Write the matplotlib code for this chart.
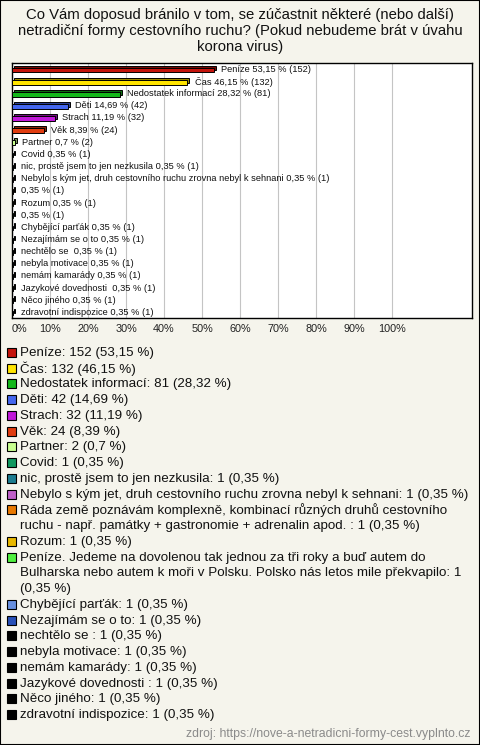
"""Horizontal 3D-ish bar chart of survey answers with a text legend below."""

import matplotlib
matplotlib.use("Agg")
import matplotlib.pyplot as plt
from matplotlib.patches import Rectangle
from matplotlib.ticker import FixedLocator
import numpy as np

plt.rcParams["font.family"] = ["Liberation Sans", "DejaVu Sans"]

TITLE = ("Co Vám doposud bránilo v tom, se zúčastnit některé (nebo další)\n"
         "netradiční formy cestovního ruchu? (Pokud nebudeme brát v úvahu\n"
         "korona virus)")
SOURCE = "zdroj: https://nove-a-netradicni-formy-cest.vyplnto.cz"

answers = [
    "Peníze", "Čas", "Nedostatek informací", "Děti", "Strach", "Věk", "Partner",
    "Covid", "nic, prostě jsem to jen nezkusila",
    "Nebylo s kým jet, druh cestovního ruchu zrovna nebyl k sehnani",
    "Ráda země poznávám komplexně, kombinací různých druhů cestovního ruchu - "
    "např. památky + gastronomie + adrenalin apod. ",
    "Rozum",
    "Peníze. Jedeme na dovolenou tak jednou za tři roky a buď autem do Bulharska "
    "nebo autem k moři v Polsku. Polsko nás letos mile překvapilo",
    "Chybějící parťák", "Nezajímám se o to", "nechtělo se ", "nebyla motivace",
    "nemám kamarády", "Jazykové dovednosti ", "Něco jiného", "zdravotní indispozice",
]
counts = [152, 132, 81, 42, 32, 24, 2] + [1] * 14
percents = [53.15, 46.15, 28.32, 14.69, 11.19, 8.39, 0.7] + [0.35] * 14
colors = [
    "#c4140c", "#ffe400", "#14b81a", "#4466ee", "#c018d8", "#e03c10", "#c8ff90",
    "#109860", "#1c7c90", "#c060c8", "#e87800", "#e8b800", "#50f040", "#6890e0",
    "#2850b8", "#000000", "#000000", "#000000", "#000000", "#000000", "#000000",
]
x_ticks = [0, 10, 20, 30, 40, 50, 60, 70, 80, 90, 100]

W, H = 480, 745
BG = "#f5f4ec"


def fmt(v):
    return f"{v:g}".replace(".", ",")


def darker(c, f=0.6):
    rgb = np.array(matplotlib.colors.to_rgb(c))
    return tuple(rgb * f)


fig = plt.figure(figsize=(W / 100, H / 100), dpi=100, facecolor=BG)
fig.patches.append(Rectangle((0, 0), 1, 1, transform=fig.transFigure,
                             fill=False, edgecolor="black", linewidth=1.5))

for k, line in enumerate(TITLE.split("\n")):
    fig.text(0.5, 1 - (15 + 16 * k) / H, line, ha="center", va="center",
             fontsize=10.7, color="#111111")

# plot area in pixels: left 12, right 472, top 63, bottom 318
ax = fig.add_axes([12 / W, 1 - 318 / H, 460 / W, 255 / H])
ax.set_facecolor("white")
n = len(answers)
y = np.arange(n)
row_px = 12.15
ax.set_ylim((318 - 70) / row_px, -7 / row_px)
ax.set_xlim(0, 460 / 380 * 100)

bh = 0.40
dx, dy = 0.55, 0.17
for i in range(n):
    # back face for the 3D look
    ax.barh(y[i] - dy, percents[i], left=dx, height=bh, color=darker(colors[i]),
            edgecolor="black", linewidth=0.7, zorder=2)
    ax.barh(y[i], percents[i], height=bh, color=colors[i],
            edgecolor="black", linewidth=0.7, zorder=3)
    name = answers[i] if len(answers[i]) < 100 else ""
    label = f"{name} {fmt(percents[i])} % ({counts[i]})".lstrip()
    ax.text(percents[i] + 1.9, y[i] - 0.05, label, va="center", ha="left",
            fontsize=6.7, color="#111111", zorder=4)

ax.xaxis.set_major_locator(FixedLocator(x_ticks))
ax.set_xticklabels([f"{t}%" for t in x_ticks])
ax.set_yticks([])
ax.grid(axis="x", color="#c4c4c4", linewidth=0.8, zorder=0)
ax.set_axisbelow(True)
ax.tick_params(axis="x", length=0, pad=4, labelsize=7.8, colors="#222222")
for s in ax.spines.values():
    s.set_color("black")
    s.set_linewidth(1.0)
ax.get_xticklabels()[0].set_horizontalalignment("left")

# legend drawn as figure text with wrapped lines
renderer = fig.canvas.get_renderer()
max_w = 452
line_h = 15.74
y_px = 353
leg_fs = 9.65
for i in range(n):
    full = f"{answers[i]}: {counts[i]} ({fmt(percents[i])} %)"
    words = full.split(" ")
    lines, cur = [], ""
    for w in words:
        trial = w if cur == "" else cur + " " + w
        t = fig.text(0, 0, trial, fontsize=leg_fs)
        wid = t.get_window_extent(renderer).width
        t.remove()
        if wid > max_w and cur:
            lines.append(cur)
            cur = w
        else:
            cur = trial
    lines.append(cur)
    fig.patches.append(Rectangle((7 / W, 1 - (y_px + 4) / H), 9 / W, 9 / H,
                                 transform=fig.transFigure, facecolor=colors[i],
                                 edgecolor="black", linewidth=0.8))
    for ln in lines:
        fig.text(20 / W, 1 - y_px / H, ln, fontsize=leg_fs, va="center",
                 ha="left", color="#111111")
        y_px += line_h

fig.text(470 / W, 1 - 734 / H, SOURCE, ha="right", va="center", fontsize=8.8,
         color="#8a8a8a")

fig.savefig("out.png", dpi=100, facecolor=BG)
